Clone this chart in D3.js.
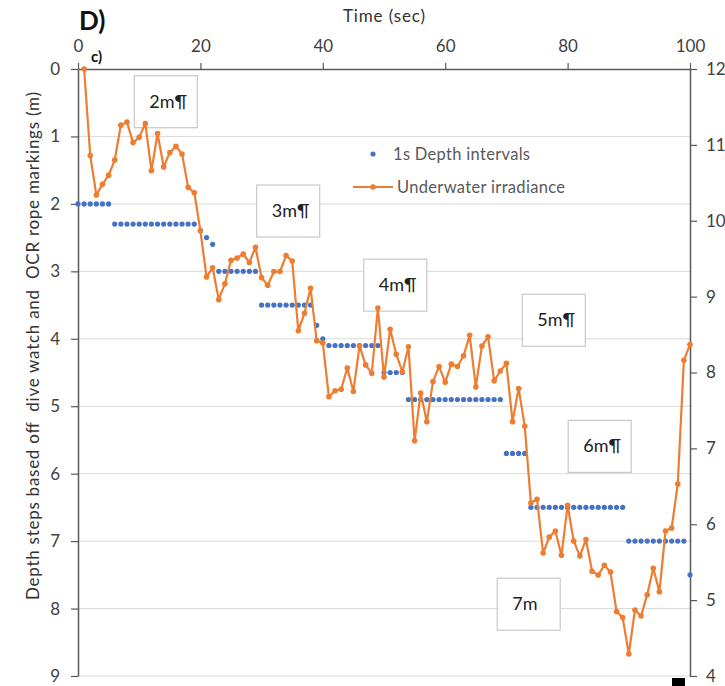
<!DOCTYPE html>
<html>
<head>
<meta charset="utf-8">
<script src="https://cdn.jsdelivr.net/npm/d3@7"></script>
<style>
  html, body { margin: 0; padding: 0; background: #fff; }
  svg { display: block; }
  text { font-family: Lato, "Open Sans", sans-serif; }
</style>
</head>
<body>
<svg id="chart" width="725" height="686"></svg>
<script>
// ---- Data ----
const timeTicks = [0, 20, 40, 60, 80, 100];
const depthTicks = [0, 1, 2, 3, 4, 5, 6, 7, 8, 9];
const irrTicks = [4, 5, 6, 7, 8, 9, 10, 11, 12];

// 1s Depth intervals (time in s, depth in m)
const depthTime = [0,1,2,3,4,5, 6,7,8,9,10,11,12,13,14,15,16,17,18,19, 20,21,22,
  23,24,25,26,27,28,29, 30,31,32,33,34,35,36,37,38, 39,40,
  41,42,43,44,45,46,47,48,49, 50,51,52,53,
  54,55,56,57,58,59,60,61,62,63,64,65,66,67,68,69,
  70,71,72,73,
  74,75,76,77,78,79,80,81,82,83,84,85,86,87,88,89,
  90,91,92,93,94,95,96,97,98,99, 100];
const depthValue = [2,2,2,2,2,2, 2.3,2.3,2.3,2.3,2.3,2.3,2.3,2.3,2.3,2.3,2.3,2.3,2.3,2.3, 2.4,2.5,2.6,
  3,3,3,3,3,3,3, 3.5,3.5,3.5,3.5,3.5,3.5,3.5,3.5,3.5, 3.8,4.0,
  4.1,4.1,4.1,4.1,4.1,4.1,4.1,4.1,4.1, 4.5,4.5,4.5,4.5,
  4.9,4.9,4.9,4.9,4.9,4.9,4.9,4.9,4.9,4.9,4.9,4.9,4.9,4.9,4.9,4.9,
  5.7,5.7,5.7,5.7,
  6.5,6.5,6.5,6.5,6.5,6.5,6.5,6.5,6.5,6.5,6.5,6.5,6.5,6.5,6.5,6.5,
  7,7,7,7,7,7,7,7,7,7, 7.5];

// Underwater irradiance (right axis)
const irrTime = [1,2,3,4,5,6,7,8,9,10,11,12,13,14,15,16,17,18,19,20,
  21,22,23,24,25,26,27,28,29,30,31,32,33,34,35,36,37,38,39,40,
  41,42,43,44,45,46,47,48,49,50,51,52,53,54,55,56,57,58,59,60,
  61,62,63,64,65,66,67,68,69,70,71,72,73,74,75,76,77,78,79,80,
  81,82,83,84,85,86,87,88,89,90,91,92,93,94,95,96,97,98,99,100];
const irrValue = [12.00,10.86,10.34,10.48,10.60,10.80,11.26,11.30,11.03,11.10,
  11.28,10.66,11.15,10.71,10.90,10.98,10.88,10.44,10.37,9.87,
  9.26,9.38,8.96,9.17,9.48,9.51,9.56,9.45,9.65,9.25,
  9.15,9.33,9.33,9.54,9.47,8.55,8.78,9.11,8.42,8.39,
  7.68,7.76,7.78,8.06,7.75,8.35,8.10,7.99,8.85,7.94,
  8.57,8.24,8.01,8.34,7.10,7.73,7.35,7.88,8.08,7.87,
  8.11,8.08,8.22,8.49,7.81,8.35,8.47,7.89,8.02,8.12,
  7.35,7.79,7.29,6.28,6.33,5.62,5.83,5.91,5.59,6.25,
  5.78,5.58,5.80,5.38,5.33,5.46,5.37,4.85,4.77,4.29,
  4.87,4.79,5.07,5.42,5.11,5.91,5.95,6.53,8.16,8.37];

// Annotation boxes: label, time at box left, depth at box top
const noteLabels = ["2m¶", "3m¶", "4m¶", "5m¶", "6m¶", "7m"];
const noteTime = [9.2, 29.2, 46.7, 72.6, 80.1, 68.5];
const noteDepth = [0.1, 1.72, 2.82, 3.34, 5.21, 7.55];

const seriesNames = ["1s Depth intervals", "Underwater irradiance"];

// ---- Chart ----
const svg = d3.select("#chart");
const C_BLUE = "#4472C4", C_ORANGE = "#ED7D31";
const x = d3.scaleLinear().domain([0, 100]).range([78, 690]);
const y = d3.scaleLinear().domain([0, 9]).range([69, 676]);
const y2 = d3.scaleLinear().domain([4, 12]).range([676, 69]);

// gridlines
svg.append("g").selectAll("line").data(depthTicks.filter(d => d > 0)).join("line")
  .attr("x1", x(0)).attr("x2", x(100))
  .attr("y1", d => y(d)).attr("y2", d => y(d))
  .attr("stroke", "#d9d9d9").attr("stroke-width", 1);

function styleAxis(g) {
  g.select(".domain").attr("stroke", "#595959").attr("stroke-width", 1.5);
  g.selectAll(".tick line").attr("stroke", "#595959").attr("stroke-width", 1.2);
  g.selectAll(".tick text").attr("fill", "#404040").style("font-size", "17px")
    .style("font-family", "Lato, sans-serif");
}

// top x-axis
svg.append("g").attr("transform", `translate(0,${y(0)})`)
  .call(d3.axisTop(x).tickValues(timeTicks).tickSize(6).tickSizeOuter(0).tickPadding(11))
  .call(styleAxis);

// left axis
svg.append("g").attr("transform", `translate(${x(0)},0)`)
  .call(d3.axisLeft(y).tickValues(depthTicks).tickSize(7).tickSizeOuter(0).tickPadding(11))
  .call(styleAxis);

// right axis
svg.append("g").attr("transform", `translate(${x(100)},0)`)
  .call(d3.axisRight(y2).tickValues(irrTicks).tickSize(7).tickSizeOuter(0).tickPadding(9))
  .call(styleAxis);

// annotation boxes
const notes = svg.append("g").selectAll("g").data(noteLabels).join("g")
  .attr("transform", (d, i) => `translate(${x(noteTime[i])},${y(noteDepth[i])})`);
notes.append("rect").attr("width", 63).attr("height", 52)
  .attr("fill", "#fff").attr("stroke", "#c8c8c8").attr("stroke-width", 1.2);
notes.append("text").attr("x", 15).attr("y", 32).text(d => d)
  .attr("fill", "#222").style("font-size", "18px");

// depth points
svg.append("g").selectAll("circle").data(depthValue).join("circle")
  .attr("cx", (d, i) => x(depthTime[i])).attr("cy", d => y(d))
  .attr("r", 2.6).attr("fill", C_BLUE);

// irradiance line
const line = d3.line().x((d, i) => x(irrTime[i])).y(d => y2(d));
svg.append("path").datum(irrValue).attr("d", line)
  .attr("fill", "none").attr("stroke", C_ORANGE).attr("stroke-width", 2.2)
  .attr("stroke-linejoin", "round");
svg.append("g").selectAll("circle").data(irrValue).join("circle")
  .attr("cx", (d, i) => x(irrTime[i])).attr("cy", d => y2(d))
  .attr("r", 2.8).attr("fill", C_ORANGE);

// legend
const lg = svg.append("g").attr("transform", "translate(353,154)");
lg.append("circle").attr("cx", 20).attr("cy", 0).attr("r", 2.6).attr("fill", C_BLUE);
lg.append("text").attr("x", 40).attr("y", 6).text(seriesNames[0])
  .attr("fill", "#595959").style("font-size", "16.5px").attr("textLength", 137);
lg.append("line").attr("x1", 0).attr("x2", 40).attr("y1", 33).attr("y2", 33)
  .attr("stroke", C_ORANGE).attr("stroke-width", 2.2);
lg.append("circle").attr("cx", 20).attr("cy", 33).attr("r", 2.8).attr("fill", C_ORANGE);
lg.append("text").attr("x", 44).attr("y", 39).text(seriesNames[1])
  .attr("fill", "#595959").style("font-size", "16.5px").attr("textLength", 168);

// titles
svg.append("text").attr("x", 384).attr("y", 22).attr("text-anchor", "middle")
  .text("Time (sec)").attr("fill", "#333").style("font-size", "17px").attr("textLength", 82);
svg.append("text").attr("transform", "translate(39,346) rotate(-90)")
  .attr("text-anchor", "middle")
  .text("Depth steps based off  dive watch and  OCR rope markings (m)")
  .attr("fill", "#333").style("font-size", "17px").attr("xml:space", "preserve")
  .style("white-space", "pre").attr("textLength", 508);
svg.append("text").attr("x", 79).attr("y", 30).text("D)")
  .attr("fill", "#111").style("font-size", "26px").style("font-weight", "bold");
svg.append("text").attr("x", 91).attr("y", 62).text("c)")
  .attr("fill", "#111").style("font-size", "15px").style("font-weight", "bold");

// small black marker at bottom
svg.append("rect").attr("x", 672).attr("y", 678).attr("width", 13).attr("height", 9).attr("fill", "#000");
</script>
</body>
</html>
